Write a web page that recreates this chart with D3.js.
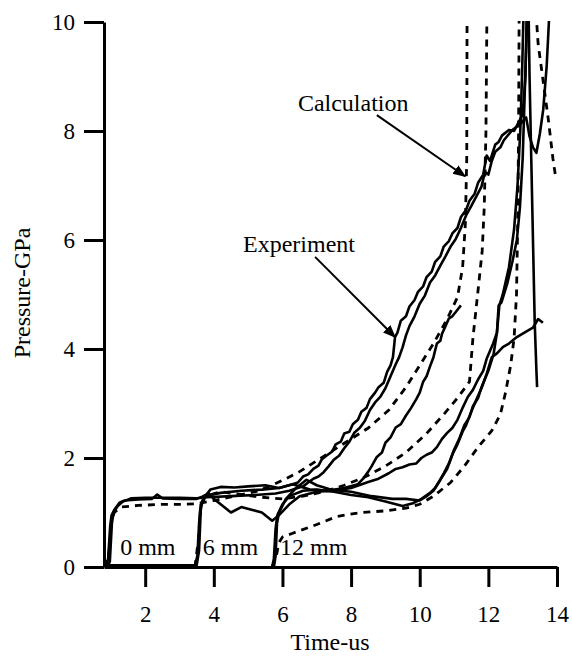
<!DOCTYPE html>
<html>
<head>
<meta charset="utf-8">
<script src="https://cdn.jsdelivr.net/npm/d3@7"></script>
<style>
  body { margin: 0; background: #fff; }
  svg { display: block; }
  text { font-family: "Liberation Serif", "Times New Roman", serif; fill: #000; }
</style>
</head>
<body>
<div id="chart"></div>
<script>
// ticks
const xTicks = [2, 4, 6, 8, 10, 12, 14];
const yTicks = [0, 2, 4, 6, 8, 10];

// experiment traces [time us, pressure GPa]
const exp0a = [[0.85,0],[0.92,0.15],[0.98,0.75],[1.02,0.95],[1.1,1.05],[1.25,1.18],[1.4,1.22],[1.8,1.24],[2.2,1.25],[2.35,1.33],[2.5,1.26],[3.0,1.25],[3.5,1.25],[3.7,1.3],[4.2,1.36],[4.8,1.4],[5.4,1.42],[5.9,1.45],[6.3,1.52],[6.45,1.55],[6.6,1.66],[6.75,1.7],[6.9,1.8],[7.05,1.86],[7.15,1.98],[7.3,2.05],[7.45,2.12],[7.55,2.25],[7.7,2.3],[7.8,2.45],[7.95,2.48],[8.05,2.62],[8.2,2.7],[8.3,2.85],[8.45,2.92],[8.55,3.08],[8.7,3.2],[8.8,3.3],[8.95,3.38],[9.05,3.58],[9.15,3.7],[9.22,3.85],[9.28,4.22],[9.35,4.3],[9.45,4.52],[9.6,4.6],[9.7,4.78],[9.85,4.9],[9.95,5.05],[10.1,5.15],[10.2,5.32],[10.35,5.42],[10.45,5.6],[10.6,5.7],[10.7,5.88],[10.85,5.98],[10.95,6.12],[11.1,6.22],[11.2,6.42],[11.35,6.55],[11.45,6.72],[11.6,6.85],[11.7,7.05],[11.85,7.2],[11.95,7.55],[12.05,7.45],[12.2,7.75],[12.3,7.8],[12.4,7.92],[12.6,8.02],[12.75,8.0],[12.85,8.12],[13.0,8.3],[13.08,9.0],[13.12,10.2],[13.17,10.3],[13.2,9.0],[13.25,7.5],[13.3,6.0],[13.35,4.5],[13.4,3.6],[13.42,3.3]];
const exp0b = [[0.9,0],[0.97,0.1],[1.03,0.8],[1.08,1.0],[1.2,1.12],[1.35,1.2],[1.6,1.26],[2.0,1.27],[2.5,1.27],[3.0,1.27],[3.5,1.26],[3.8,1.28],[4.5,1.3],[5.2,1.32],[5.8,1.35],[6.2,1.4],[6.6,1.48],[6.75,1.55],[6.9,1.62],[7.05,1.66],[7.2,1.74],[7.35,1.85],[7.5,1.97],[7.65,2.04],[7.8,2.18],[7.95,2.3],[8.1,2.47],[8.25,2.55],[8.4,2.68],[8.55,2.88],[8.7,3.02],[8.85,3.12],[9.0,3.28],[9.15,3.5],[9.3,3.72],[9.4,3.85],[9.5,4.03],[9.6,4.25],[9.7,4.42],[9.85,4.6],[10.0,4.83],[10.15,4.98],[10.3,5.22],[10.45,5.35],[10.6,5.53],[10.75,5.7],[10.9,5.88],[11.05,6.02],[11.2,6.22],[11.35,6.45],[11.5,6.62],[11.65,6.8],[11.8,6.98],[11.9,7.25],[12.0,7.2],[12.1,7.45],[12.2,7.62],[12.35,7.7],[12.45,7.83],[12.7,8.02],[12.95,8.14],[13.1,8.25],[13.2,7.9],[13.3,7.7],[13.4,7.6],[13.5,7.95],[13.6,8.4],[13.7,9.2],[13.78,10.2]];
const exp6a = [[0.9,0.02],[3.45,0.02],[3.52,0.2],[3.58,0.9],[3.62,1.15],[3.75,1.3],[3.9,1.42],[4.2,1.47],[4.6,1.46],[5.0,1.48],[5.5,1.5],[5.9,1.45],[6.3,1.52],[6.8,1.42],[7.3,1.4],[7.8,1.45],[8.2,1.52],[8.35,1.62],[8.5,1.75],[8.6,1.85],[8.75,2.02],[8.9,2.1],[9.0,2.28],[9.15,2.38],[9.3,2.56],[9.45,2.62],[9.6,2.78],[9.75,2.92],[9.9,3.08],[10.0,3.2],[10.1,3.4],[10.2,3.5],[10.3,3.68],[10.4,3.85],[10.5,4.1],[10.6,4.15],[10.65,4.28],[10.75,4.42],[10.85,4.56],[10.95,4.6],[11.05,4.68],[11.2,4.8]];
const exp6b = [[0.9,0.03],[3.5,0.03],[3.57,0.3],[3.62,1.05],[3.7,1.3],[3.85,1.35],[4.0,1.25],[4.2,1.15],[4.5,1.0],[4.8,1.1],[5.1,1.05],[5.4,1.0],[5.7,0.85],[5.9,0.95],[6.2,1.15],[6.5,1.3],[7.0,1.38],[7.5,1.4],[8.0,1.45],[8.5,1.56],[8.8,1.62],[9.1,1.72],[9.3,1.8],[9.5,1.83],[9.7,1.88],[9.9,1.9],[10.05,2.0],[10.2,2.06],[10.35,2.1],[10.5,2.2],[10.65,2.35],[10.8,2.46],[10.95,2.55],[11.1,2.7],[11.25,2.92],[11.4,3.12],[11.55,3.25],[11.7,3.44],[11.85,3.6],[11.95,3.82],[12.14,4.1],[12.25,4.3],[12.3,4.8],[12.38,4.85],[12.55,5.2],[12.7,5.6],[12.83,6.0],[12.92,6.6],[13.0,7.5],[13.05,8.5],[13.1,9.5],[13.14,10.3]];
const exp12a = [[5.7,0],[5.75,0.15],[5.8,0.7],[5.85,0.95],[6.0,1.15],[6.2,1.3],[6.6,1.4],[7.0,1.42],[7.5,1.38],[8.0,1.32],[8.5,1.28],[9.0,1.2],[9.5,1.12],[9.8,1.17],[10.05,1.25],[10.3,1.36],[10.45,1.45],[10.6,1.6],[10.8,1.8],[10.97,2.09],[11.1,2.25],[11.26,2.5],[11.35,2.6],[11.47,2.8],[11.55,2.92],[11.67,3.1],[11.8,3.28],[11.96,3.56],[12.1,3.85],[12.25,3.92],[12.43,4.04],[12.6,4.1],[12.83,4.22],[13.05,4.3],[13.3,4.39],[13.45,4.55],[13.59,4.48]];
const exp12b = [[5.75,0],[5.8,0.2],[5.84,0.8],[5.9,1.0],[6.1,1.25],[6.4,1.45],[6.7,1.6],[7.0,1.5],[7.4,1.42],[8.0,1.38],[8.6,1.3],[9.2,1.25],[9.6,1.25],[10.0,1.22],[10.2,1.3],[10.4,1.4],[10.55,1.55],[10.7,1.72],[10.85,1.9],[11.0,2.15],[11.15,2.35],[11.3,2.6],[11.45,2.75],[11.55,2.95],[11.7,3.1],[11.8,3.3],[12.0,3.6],[12.15,3.9],[12.25,4.3],[12.32,4.8],[12.42,5.0],[12.6,5.5],[12.75,6.2],[12.85,7.0],[12.93,8.0],[12.98,9.0],[13.03,10.3]];

// calculation traces
const calc0 = [[0.85,0],[0.95,0.3],[1.02,0.85],[1.1,1.0],[1.3,1.1],[1.8,1.13],[2.5,1.15],[3.0,1.15],[3.5,1.16],[4.0,1.22],[4.6,1.3],[5.2,1.38],[5.7,1.5],[6.1,1.62],[6.5,1.75],[7.0,1.95],[7.5,2.15],[8.0,2.35],[8.5,2.55],[9.1,2.88],[9.6,3.3],[10.0,3.7],[10.4,4.1],[10.8,4.55],[11.1,4.95],[11.25,5.5],[11.33,6.3],[11.37,7.5],[11.38,10.3]];
const calc6 = [[3.45,0],[3.55,0.5],[3.62,1.1],[3.75,1.3],[4.2,1.38],[4.8,1.33],[5.4,1.28],[6.0,1.25],[6.6,1.3],[7.2,1.38],[7.8,1.5],[8.4,1.65],[9.0,1.85],[9.6,2.1],[10.2,2.45],[10.7,2.8],[11.1,3.1],[11.45,3.4],[11.55,4.2],[11.67,4.9],[11.82,5.8],[11.88,6.6],[11.93,8.0],[11.96,10.3]];
const calc12 = [[5.7,0],[5.82,0.2],[5.9,0.45],[6.0,0.55],[6.3,0.62],[7.0,0.78],[7.6,0.93],[8.3,1.0],[9.0,1.03],[9.6,1.08],[10.0,1.15],[10.4,1.3],[10.9,1.55],[11.3,1.85],[11.7,2.2],[12.1,2.5],[12.35,2.8],[12.5,3.2],[12.65,3.7],[12.75,4.2],[12.82,5.0],[12.86,6.5],[12.88,8.0],[12.9,10.5],[13.3,11],[13.45,9.6],[13.6,8.9],[13.75,8.2],[13.88,7.5],[13.95,7.2]];

const expSeries = [exp0a, exp0b, exp6a, exp6b, exp12a, exp12b];
const calcSeries = [calc0, calc6, calc12];

// gauge labels and callouts (data coords)
const gaugeLabels = [
    { text: '0 mm', t: 1.27, p: 0.22 },
    { text: '6 mm', t: 3.68, p: 0.22 },
    { text: '12 mm', t: 5.93, p: 0.22 },
];
const callouts = [
    { text: 'Calculation', t: 6.45, p: 8.37, from: [8.75, 8.29], to: [11.32, 7.17] },
    { text: 'Experiment', t: 4.85, p: 5.78, from: [6.95, 5.69], to: [9.28, 4.22] },
];

const W = 572, H = 656;

const svg = d3.select('#chart')
    .append('svg')
    .attr('width', W)
    .attr('height', H);

svg.append('rect').attr('width', W).attr('height', H).attr('fill', '#fff');

const x = d3.scaleLinear().domain([0.8, 14]).range([104, 557]);
const y = d3.scaleLinear().domain([0, 10]).range([567, 22]);

svg.append('defs').append('clipPath')
    .attr('id', 'plot-clip')
    .append('rect')
    .attr('x', x(0.8))
    .attr('y', y(10) - 1)
    .attr('width', x(14) - x(0.8) + 2)
    .attr('height', y(0) - y(10) + 1);

svg.select('defs').append('marker')
    .attr('id', 'arrow')
    .attr('viewBox', '0 0 10 10')
    .attr('refX', 9)
    .attr('refY', 5)
    .attr('markerWidth', 6.5)
    .attr('markerHeight', 6.5)
    .attr('markerUnits', 'strokeWidth')
    .attr('orient', 'auto')
    .append('path')
    .attr('d', 'M0,1 L10,5 L0,9 z')
    .attr('fill', '#000');

const line = d3.line()
    .x((d) => x(d[0]))
    .y((d) => y(d[1]));

const plot = svg.append('g').attr('clip-path', 'url(#plot-clip)');

plot.selectAll('path.calc')
    .data(calcSeries)
    .enter()
    .append('path')
    .attr('class', 'calc')
    .attr('d', line)
    .attr('fill', 'none')
    .attr('stroke', '#000')
    .attr('stroke-width', 2.8)
    .attr('stroke-dasharray', '7,6');

plot.selectAll('path.exp')
    .data(expSeries)
    .enter()
    .append('path')
    .attr('class', 'exp')
    .attr('d', line)
    .attr('fill', 'none')
    .attr('stroke', '#000')
    .attr('stroke-width', 2.6)
    .attr('stroke-linejoin', 'round');

// axes
const xAxis = svg.append('g')
    .attr('transform', `translate(0, ${y(0)})`)
    .call(d3.axisBottom(x).tickValues(xTicks).tickSize(20).tickSizeOuter(0).tickPadding(19));

const yAxis = svg.append('g')
    .attr('transform', `translate(${x(0.8)}, 0)`)
    .call(d3.axisLeft(y).tickValues(yTicks).tickSize(20).tickSizeOuter(0).tickPadding(9));

[xAxis, yAxis].forEach((g) => {
    g.select('.domain').attr('stroke', '#000').attr('stroke-width', 3);
    g.selectAll('.tick line').attr('stroke', '#000').attr('stroke-width', 3);
    g.selectAll('.tick text')
        .style('font-family', '"Liberation Serif", serif')
        .style('font-size', '23px')
        .attr('fill', '#000');
});

svg.append('text')
    .attr('x', 330)
    .attr('y', 650)
    .attr('text-anchor', 'middle')
    .style('font-size', '24px')
    .text('Time-us');

svg.append('text')
    .attr('transform', 'translate(30, 293) rotate(-90)')
    .attr('text-anchor', 'middle')
    .style('font-size', '24px')
    .text('Pressure-GPa');

svg.selectAll('text.gauge')
    .data(gaugeLabels)
    .enter()
    .append('text')
    .attr('class', 'gauge')
    .attr('x', (d) => x(d.t))
    .attr('y', (d) => y(d.p))
    .style('font-size', '24px')
    .text((d) => d.text);

callouts.forEach((c) => {
    svg.append('text')
        .attr('x', x(c.t))
        .attr('y', y(c.p))
        .style('font-size', '24px')
        .text(c.text);

    svg.append('line')
        .attr('x1', x(c.from[0]))
        .attr('y1', y(c.from[1]))
        .attr('x2', x(c.to[0]))
        .attr('y2', y(c.to[1]))
        .attr('stroke', '#000')
        .attr('stroke-width', 2)
        .attr('marker-end', 'url(#arrow)');
});
</script>
</body>
</html>
